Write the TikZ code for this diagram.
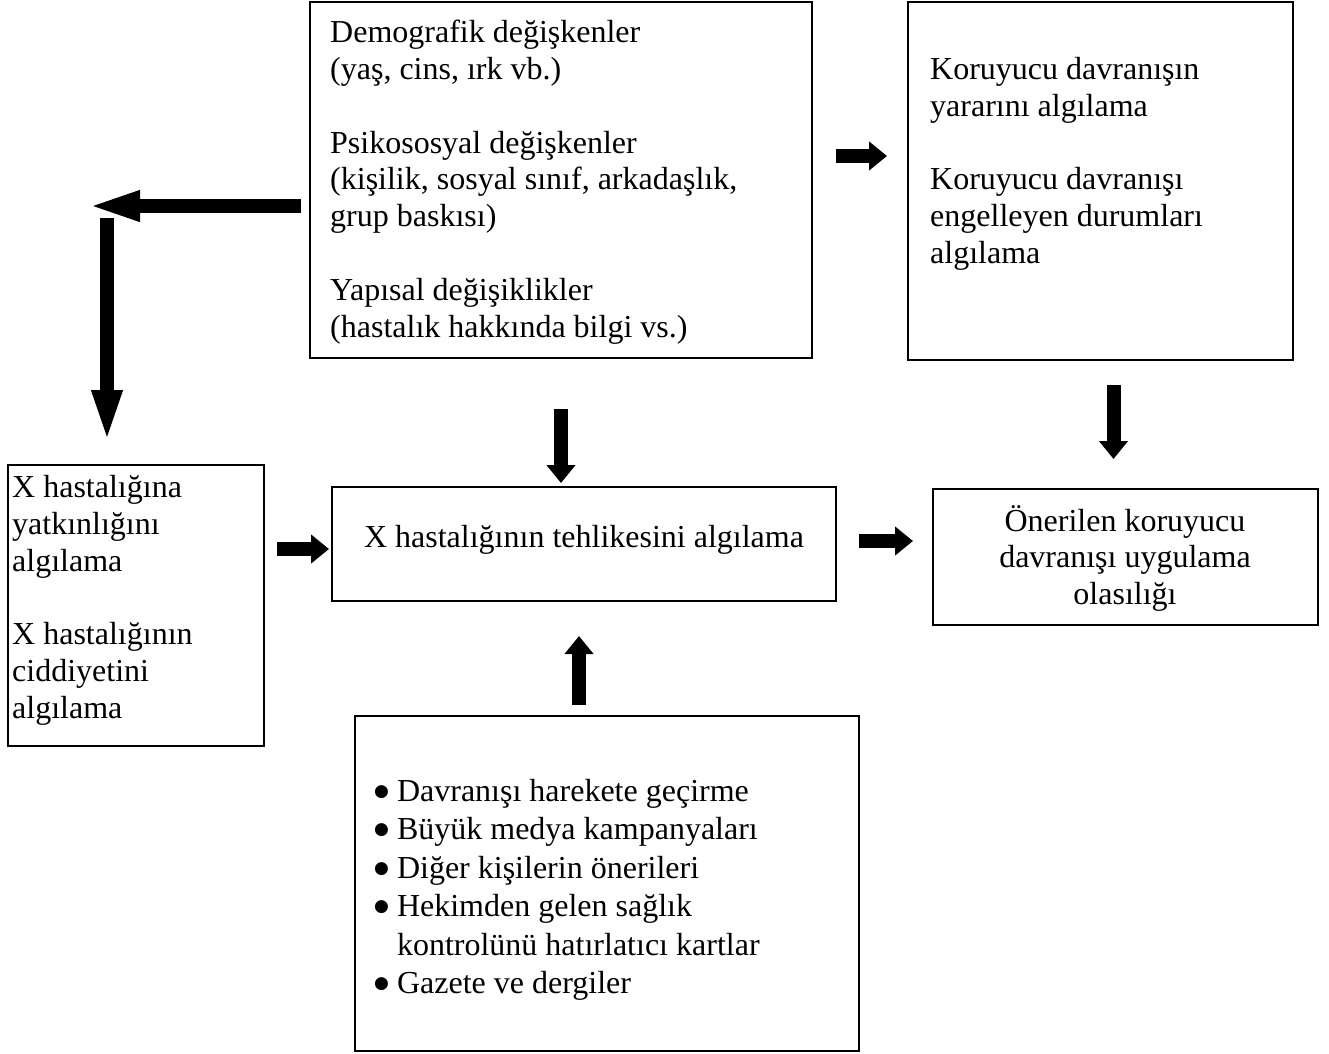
\documentclass[tikz,border=0pt]{standalone}
\usepackage{fontspec}
\setmainfont{Liberation Serif}
\newfontfamily\simge{DejaVu Sans}
\usetikzlibrary{arrows.meta}

\newcommand{\madde}{\raisebox{5pt}{\simge\fontsize{17}{17}\selectfont ●}}

\begin{document}
\begin{tikzpicture}[
    x=1pt, y=-1pt,
    box/.style={draw, line width=2pt, rectangle, inner sep=0pt},
    txt/.style={inner sep=0pt, font=\fontsize{32}{36.8}\selectfont},
    flow/.style={line width=14pt, -{Triangle[length=18pt, width=28pt]}},
    bigflow/.style={line width=14pt, -{Triangle[length=54pt, width=27pt]}}
    ]
    \useasboundingbox (0,0) rectangle (1329,1053);
    % kutular
    \node[box, minimum width=502pt, minimum height=356pt] (demo) at (561,180) {};
    \node[box, minimum width=385pt, minimum height=358pt] (fayda) at (1100.5,181) {};
    \node[box, minimum width=256pt, minimum height=281pt] (yatkin) at (136,605.5) {};
    \node[box, minimum width=504pt, minimum height=114pt] (tehlike) at (584,544) {};
    \node[box, minimum width=385pt, minimum height=136pt] (olasilik) at (1125.5,557) {};
    \node[box, minimum width=504pt, minimum height=335pt] (ipucu) at (607,883.5) {};
    % metinler
    \node[txt, anchor=north west, align=left] (demotxt) at (330,20)
      {Demografik değişkenler\\(yaş, cins, ırk vb.)\\[36.8pt]Psikososyal değişkenler\\(kişilik, sosyal sınıf, arkadaşlık,\\grup baskısı)\\[36.8pt]Yapısal değişiklikler\\(hastalık hakkında bilgi vs.)};
    \node[txt, anchor=north west, align=left] (faydatxt) at (930,57)
      {Koruyucu davranışın\\yararını algılama\\[36.8pt]Koruyucu davranışı\\engelleyen durumları\\algılama};
    \node[txt, anchor=north west, align=left] (yatkintxt) at (12,475)
      {X hastalığına\\yatkınlığını\\algılama\\[36.8pt]X hastalığının\\ciddiyetini\\algılama};
    \node[txt, anchor=base] (tehliketxt) at (584,547) {X hastalığının tehlikesini algılama};
    \node[txt, anchor=north, align=center] (olasiliktxt) at (1125,505)
      {Önerilen koruyucu\\davranışı uygulama\\olasılığı};
    \node[txt, anchor=north west, font=\fontsize{32}{38.5}\selectfont] (iputxt) at (374,774)
      {\begin{tabular}{@{}l@{\hspace{8pt}}l@{}}
        \madde & Davranışı harekete geçirme\\
        \madde & Büyük medya kampanyaları\\
        \madde & Diğer kişilerin önerileri\\
        \madde & Hekimden gelen sağlık\\
               & kontrolünü hatırlatıcı kartlar\\
        \madde & Gazete ve dergiler
      \end{tabular}};
    % oklar
    \coordinate (kose) at (107,206);
    \draw[bigflow] ([xshift=-8pt]demo.west |- kose) -- ([xshift=-21pt]kose);
    \draw[bigflow] ([yshift=-12pt]kose) -- ([yshift=20pt]yatkin.north -| kose);
    \draw[flow] ([xshift=23pt,yshift=24pt]demo.east) -- ([xshift=-20pt,yshift=25pt]fayda.west);
    \draw[flow] ([yshift=-50pt]demo.south) -- ([yshift=3pt]tehlike.north -| demo.south);
    \draw[flow] ([xshift=13pt,yshift=-24pt]fayda.south) -- ([xshift=-12pt,yshift=29pt]olasilik.north);
    \draw[flow] ([xshift=-54pt,yshift=-5pt]tehlike.west) -- ([xshift=-2pt,yshift=-5pt]tehlike.west);
    \draw[flow] ([xshift=22pt,yshift=3pt]tehlike.east) -- ([xshift=-19pt,yshift=16pt]olasilik.west);
    \draw[flow] ([xshift=-28pt,yshift=10pt]ipucu.north) -- ([xshift=-5pt,yshift=-34pt]tehlike.south);
\end{tikzpicture}
\end{document}
